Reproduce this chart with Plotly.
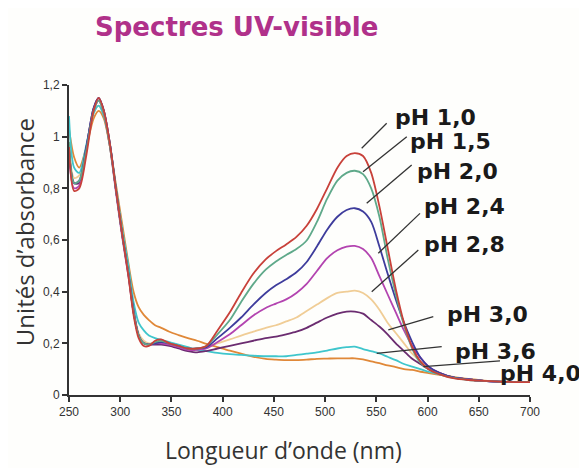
import plotly.graph_objects as go

# Wavelength grid (nm)
wavelength = [250, 255, 260, 267, 274, 279, 284, 290, 296, 302, 308, 313, 318, 323, 328, 334, 340, 348,
              357, 366, 375, 384, 395, 407, 418, 430, 442, 452, 462, 472, 482, 492, 502, 512, 521, 529,
              537, 545, 553, 561, 569, 577, 585, 593, 601, 612, 625, 640, 655, 670, 685, 700]

ph_1_0 = [0.96, 0.79, 0.80, 0.93, 1.10, 1.15, 1.10, 0.97, 0.79, 0.62, 0.46, 0.31, 0.22, 0.19, 0.19, 0.21,
          0.215, 0.20, 0.19, 0.18, 0.18, 0.19, 0.25, 0.32, 0.395, 0.47, 0.525, 0.557, 0.583, 0.612, 0.655, 0.72,
          0.80, 0.88, 0.925, 0.936, 0.925, 0.86, 0.73, 0.57, 0.41, 0.28, 0.185, 0.13, 0.10, 0.08, 0.065,
          0.058, 0.055, 0.052, 0.05, 0.05]
ph_1_5 = [0.98, 0.82, 0.83, 0.95, 1.10, 1.14, 1.09, 0.96, 0.79, 0.62, 0.47, 0.32, 0.23, 0.20, 0.195, 0.205,
          0.21, 0.20, 0.19, 0.18, 0.18, 0.19, 0.235, 0.29, 0.36, 0.43, 0.485, 0.517, 0.542, 0.565, 0.598, 0.67,
          0.76, 0.83, 0.86, 0.868, 0.855, 0.80, 0.69, 0.53, 0.39, 0.27, 0.18, 0.125, 0.10, 0.08, 0.066,
          0.058, 0.055, 0.052, 0.05, 0.05]
ph_2_0 = [0.95, 0.82, 0.83, 0.96, 1.11, 1.15, 1.10, 0.97, 0.79, 0.62, 0.47, 0.32, 0.23, 0.20, 0.195, 0.20,
          0.205, 0.20, 0.19, 0.18, 0.18, 0.185, 0.22, 0.26, 0.30, 0.35, 0.395, 0.425, 0.448, 0.475, 0.515, 0.575,
          0.64, 0.69, 0.716, 0.723, 0.71, 0.67, 0.575, 0.47, 0.37, 0.28, 0.205, 0.145, 0.11, 0.085, 0.068,
          0.06, 0.055, 0.052, 0.05, 0.05]
ph_2_4 = [0.93, 0.80, 0.81, 0.95, 1.10, 1.14, 1.09, 0.96, 0.78, 0.61, 0.46, 0.32, 0.23, 0.20, 0.195, 0.20,
          0.20, 0.195, 0.185, 0.175, 0.175, 0.18, 0.205, 0.235, 0.27, 0.308, 0.337, 0.354, 0.37, 0.395, 0.43,
          0.48, 0.53, 0.56, 0.574, 0.577, 0.565, 0.53, 0.46, 0.39, 0.32, 0.25, 0.19, 0.145, 0.11, 0.085,
          0.068, 0.06, 0.055, 0.052, 0.05, 0.05]
ph_2_8 = [0.97, 0.84, 0.85, 0.96, 1.09, 1.12, 1.08, 0.96, 0.79, 0.63, 0.48, 0.33, 0.24, 0.21, 0.20, 0.20,
          0.20, 0.195, 0.19, 0.18, 0.18, 0.185, 0.20, 0.215, 0.23, 0.245, 0.26, 0.27, 0.285, 0.30, 0.325,
          0.35, 0.375, 0.395, 0.40, 0.404, 0.395, 0.37, 0.33, 0.28, 0.24, 0.20, 0.16, 0.13, 0.105, 0.085,
          0.068, 0.06, 0.055, 0.052, 0.05, 0.05]
ph_3_0 = [0.96, 0.82, 0.82, 0.96, 1.11, 1.15, 1.10, 0.97, 0.79, 0.62, 0.47, 0.33, 0.23, 0.20, 0.195, 0.195,
          0.195, 0.19, 0.18, 0.17, 0.165, 0.17, 0.18, 0.19, 0.20, 0.21, 0.22, 0.226, 0.235, 0.245, 0.26,
          0.28, 0.30, 0.315, 0.323, 0.323, 0.315, 0.29, 0.265, 0.235, 0.20, 0.17, 0.14, 0.12, 0.10, 0.085,
          0.068, 0.06, 0.055, 0.052, 0.05, 0.05]
ph_3_6 = [1.08, 0.88, 0.86, 0.97, 1.09, 1.12, 1.08, 0.97, 0.80, 0.64, 0.50, 0.36, 0.28, 0.25, 0.23, 0.22,
          0.213, 0.205, 0.195, 0.185, 0.175, 0.17, 0.163, 0.158, 0.155, 0.152, 0.15, 0.15, 0.15, 0.155,
          0.16, 0.165, 0.172, 0.18, 0.185, 0.187, 0.178, 0.17, 0.161, 0.148, 0.135, 0.12, 0.11, 0.10, 0.09,
          0.08, 0.068, 0.06, 0.055, 0.052, 0.05, 0.05]
ph_4_0 = [1.03, 0.92, 0.88, 0.96, 1.07, 1.10, 1.07, 0.96, 0.81, 0.66, 0.51, 0.40, 0.34, 0.31, 0.29, 0.27,
          0.26, 0.245, 0.232, 0.22, 0.21, 0.198, 0.185, 0.172, 0.16, 0.148, 0.14, 0.137, 0.135, 0.135,
          0.137, 0.14, 0.141, 0.142, 0.142, 0.142, 0.138, 0.13, 0.123, 0.115, 0.108, 0.10, 0.097, 0.09,
          0.085, 0.078, 0.07, 0.062, 0.056, 0.052, 0.05, 0.05]

series_names = ["pH 1,0", "pH 1,5", "pH 2,0", "pH 2,4", "pH 2,8", "pH 3,0", "pH 3,6", "pH 4,0"]
series_values = [ph_1_0, ph_1_5, ph_2_0, ph_2_4, ph_2_8, ph_3_0, ph_3_6, ph_4_0]
series_colors = ["#C8413A", "#5FA98A", "#3E3C9C", "#B344B0", "#F0CD96", "#6B2C70", "#3FC6CC", "#E08838"]

# Label positions (nm, absorbance) and leader line ends
label_x = [566, 581, 588, 595, 595, 617, 625, 669]
label_y = [1.076, 0.983, 0.867, 0.728, 0.581, 0.31, 0.17, 0.085]
leader_x0 = [535.7, 537, 540.6, 551.9, 545.5, 561.7, 550.4, 595.9]
leader_y0 = [0.955, 0.864, 0.742, 0.549, 0.40, 0.252, 0.161, 0.11]
leader_x1 = [560.1, 579.7, 584.5, 592.6, 591.0, 605.6, 613.8, 670.7]
leader_y1 = [1.052, 1.0, 0.890, 0.703, 0.561, 0.303, 0.187, 0.132]

x_ticks = [250, 300, 350, 400, 450, 500, 550, 600, 650, 700]
y_ticks = [0, 0.2, 0.4, 0.6, 0.8, 1.0, 1.2]
y_tick_text = ["0", "0,2", "0,4", "0,6", "0,8", "1", "1,2"]

fig = go.Figure()
draw_order = [4, 7, 6, 5, 3, 2, 1, 0]
for i in draw_order:
    fig.add_trace(go.Scatter(x=wavelength, y=series_values[i], mode="lines", name=series_names[i],
                             line=dict(color=series_colors[i], width=1.8, shape="spline", smoothing=0.8)))

for i, name in enumerate(series_names):
    fig.add_shape(type="line", xref="x", yref="y", x0=leader_x0[i], y0=leader_y0[i],
                  x1=leader_x1[i], y1=leader_y1[i], line=dict(color="#333333", width=1.3))
    fig.add_annotation(x=label_x[i], y=label_y[i], xref="x", yref="y", text="<b>" + name + "</b>",
                       showarrow=False, xanchor="left", yanchor="middle",
                       font=dict(family="DejaVu Sans", size=22, color="#1a1a1a"))

fig.add_annotation(x=0.052, y=1.187, xref="paper", yref="paper", text="<b>Spectres UV-visible</b>",
                   showarrow=False, xanchor="left", yanchor="middle",
                   font=dict(family="DejaVu Sans", size=26, color="#B0318A"))
fig.add_annotation(x=-0.095, y=0.526, xref="paper", yref="paper", text="Unités d’absorbance",
                   showarrow=False, textangle=-90, xanchor="center", yanchor="middle",
                   font=dict(family="Open Sans", size=24, color="#333333"))
fig.add_annotation(x=0.466, y=-0.177, xref="paper", yref="paper", text="Longueur d’onde (nm)",
                   showarrow=False, xanchor="center", yanchor="middle",
                   font=dict(family="Open Sans", size=23, color="#333333"))

# The page body adds an 8 px offset, so the figure is sized to fit the 587x468 window
fig.update_layout(
    width=579, height=460,
    margin=dict(l=61, r=57, t=77, b=73),
    paper_bgcolor="#FEFEFC", plot_bgcolor="#FEFEFC",
    showlegend=False,
    xaxis=dict(range=[250, 700], tickvals=x_ticks, showgrid=False, zeroline=False,
               showline=True, linecolor="#333333", linewidth=2, ticks="outside", ticklen=5,
               tickcolor="#333333", tickwidth=1.5,
               tickfont=dict(family="Liberation Sans Narrow, Liberation Sans", size=12, color="#333333")),
    yaxis=dict(range=[0, 1.2], tickvals=y_ticks, ticktext=y_tick_text, showgrid=False, zeroline=False,
               showline=True, linecolor="#333333", linewidth=2, ticks="outside", ticklen=5,
               tickcolor="#333333", tickwidth=1.5,
               tickfont=dict(family="Liberation Sans Narrow, Liberation Sans", size=12, color="#333333")),
)

fig.write_html("out.html")
